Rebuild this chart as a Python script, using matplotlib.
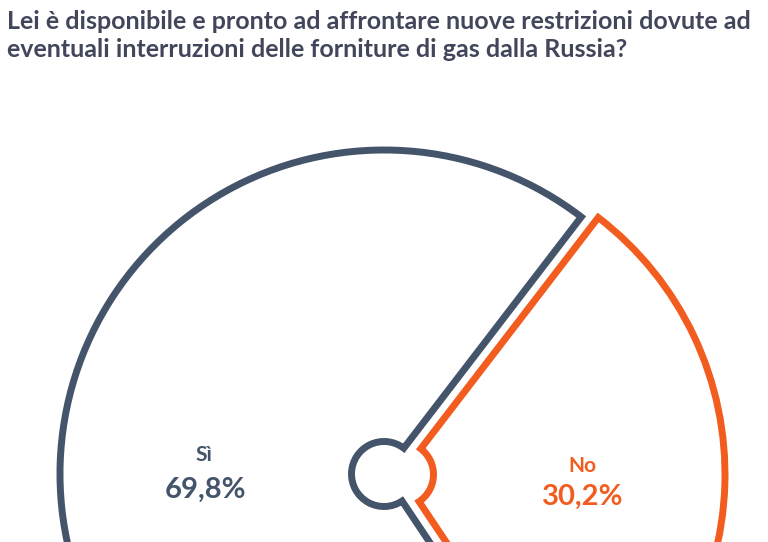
import matplotlib
matplotlib.use("Agg")
import matplotlib.pyplot as plt

categories = ["Sì", "No"]
values = [69.8, 30.2]
value_labels = ["69,8%", "30,2%"]
title = ("Lei è disponibile e pronto ad affrontare nuove restrizioni dovute ad\n"
         "eventuali interruzioni delle forniture di gas dalla Russia?")

NAVY = "#44546a"
ORANGE = "#f25c1f"
W, H = 768, 542

fig = plt.figure(figsize=(W / 100, H / 100), dpi=100)
fig.patch.set_facecolor("white")
ax = fig.add_axes([0, 0, 1, 1])

cx, cy = 384, 68
R = 324
r_in = 32.5
wedges, _ = ax.pie(values, startangle=52.5, counterclock=True,
                   colors=["white", "white"], explode=[0, 17],
                   center=(cx, cy), radius=R,
                   wedgeprops=dict(width=R - r_in, linewidth=5.0,
                                   joinstyle="miter"))
for w, c in zip(wedges, [NAVY, ORANGE]):
    w.set_edgecolor(c)
    w.set_clip_on(True)

ax.set_xlim(0, W)
ax.set_ylim(0, H)
ax.set_aspect("equal")
ax.axis("off")

fam = ["Lato", "DejaVu Sans"]
ax.text(204, 87, categories[0], ha="center", va="center", color=NAVY,
        fontsize=15, fontweight="bold", family=fam)
ax.text(205, 52, value_labels[0], ha="center", va="center", color=NAVY,
        fontsize=21, fontweight="bold", family=fam)
ax.text(582, 76, categories[1], ha="center", va="center", color=ORANGE,
        fontsize=15, fontweight="bold", family=fam)
ax.text(583, 45, value_labels[1], ha="center", va="center", color=ORANGE,
        fontsize=21, fontweight="bold", family=fam)

fig.text(7 / W, 1 - 10 / H, title, ha="left", va="top", color="#41465a",
         fontsize=18, fontweight="bold", family=fam, linespacing=1.28)

fig.savefig("out.png", dpi=100, facecolor="white")
